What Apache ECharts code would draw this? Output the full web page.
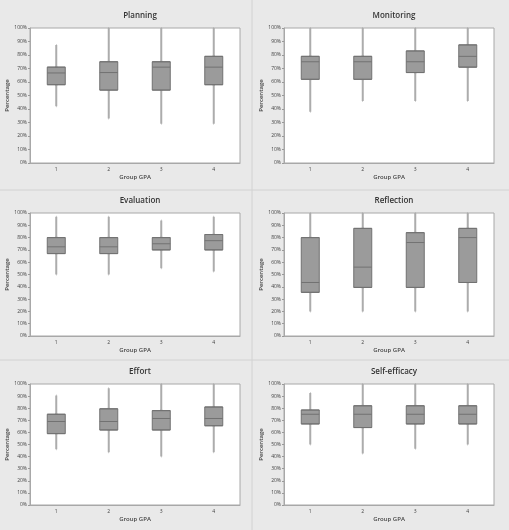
<!DOCTYPE html>
<html lang="en">
<head>
    <meta charset="UTF-8">
    <title>Group GPA boxplots</title>
    <script src="https://cdn.jsdelivr.net/npm/echarts@6/dist/echarts.min.js"></script>
    <style>
        html, body { margin: 0; padding: 0; background: #fff; }
    </style>
</head>
<body>
<div id="myChart" style="width: 509px;height: 530px;"></div>
<script>
    // each row: [min, Q1, median, Q3, max] in percent, groups 1..4
    var groups = ['1', '2', '3', '4'];
    var planning = [[42, 58, 66.7, 71, 87.5], [33, 54, 67, 75, 100], [29, 54, 71, 75, 100], [29, 58, 71, 79, 100]];
    var monitoring = [[38, 62, 75, 79, 100], [46, 62, 75, 79, 100], [46, 67, 75, 83, 100], [46, 71, 79, 87.5, 100]];
    var evaluation = [[50, 67, 72.5, 80, 97], [50, 67, 72.5, 80, 97], [55, 70, 75, 80, 94], [52.5, 70, 77.5, 82.5, 97]];
    var reflection = [[20, 35.5, 43.5, 80, 100], [20, 39.5, 56, 87.5, 100], [20, 39.5, 76, 84, 100], [20, 43.5, 80, 87.5, 100]];
    var effort = [[46, 59, 69, 75, 90.5], [43.5, 62, 69, 79.5, 96.5], [40, 62, 71.5, 78, 100], [43.5, 65.5, 71.5, 81, 100]];
    var selfEfficacy = [[50, 67, 75, 78.5, 92.5], [42.5, 64, 75, 82, 100], [46.5, 67, 75, 82, 100], [50, 67, 75, 82, 100]];
    var yTicks = [0, 10, 20, 30, 40, 50, 60, 70, 80, 90, 100];

    var panels = [
        {name: 'Planning', data: planning},
        {name: 'Monitoring', data: monitoring},
        {name: 'Evaluation', data: evaluation},
        {name: 'Reflection', data: reflection},
        {name: 'Effort', data: effort},
        {name: 'Self-efficacy', data: selfEfficacy}
    ];

    // plot areas in px
    var cols = [30, 284];
    var rows = [{top: 28, height: 135}, {top: 213, height: 123}, {top: 384, height: 121}];
    var plotW = 210;

    var font = 'Open Sans, Liberation Sans, sans-serif';
    var titles = [], grids = [], xAxes = [], yAxes = [], series = [];

    panels.forEach(function (p, i) {
        var c = i % 2, r = Math.floor(i / 2);
        grids.push({
            left: cols[c], top: rows[r].top, width: plotW, height: rows[r].height,
            show: true, backgroundColor: '#fff', borderColor: '#a8a8a8', borderWidth: 1
        });
        titles.push({
            text: p.name, left: cols[c] + plotW / 2, top: rows[r].top - 21, textAlign: 'center',
            textStyle: {fontSize: 8, fontWeight: 600, color: '#333', fontFamily: font}
        });
        // visible axis (index 2i) and a hidden twin (2i+1) so the whiskers
        // and boxes are not placed side by side
        xAxes.push({
            gridIndex: i, type: 'category', data: groups,
            name: 'Group GPA', nameLocation: 'middle', nameGap: 11,
            nameTextStyle: {fontSize: 6, fontWeight: 600, color: '#444', fontFamily: font},
            axisLine: {lineStyle: {color: '#a8a8a8'}},
            axisTick: {alignWithLabel: true, length: 2, lineStyle: {color: '#999'}},
            axisLabel: {fontSize: 5, color: '#444', margin: 4, fontFamily: font}
        });
        xAxes.push({gridIndex: i, type: 'category', data: groups, show: false});
        yAxes.push({
            gridIndex: i, type: 'value', min: yTicks[0], max: yTicks[yTicks.length - 1], interval: yTicks[1] - yTicks[0],
            name: 'Percentage', nameLocation: 'middle', nameGap: 19,
            nameTextStyle: {fontSize: 6, fontWeight: 600, color: '#444', fontFamily: font},
            axisLine: {show: true, lineStyle: {color: '#a8a8a8'}},
            axisTick: {show: true, length: 2, lineStyle: {color: '#999'}},
            axisLabel: {fontSize: 5, color: '#444', margin: 3, formatter: '{value}%', fontFamily: font},
            splitLine: {show: false}
        });
        // whiskers: a near zero width boxplot, so no end caps show
        series.push({
            type: 'boxplot', xAxisIndex: 2 * i + 1, yAxisIndex: i, data: p.data,
            boxWidth: [0.5, 0.5], silent: true,
            itemStyle: {color: '#acacac', borderColor: '#acacac', borderWidth: 2}
        });
        // boxes on top, whiskers collapsed
        series.push({
            type: 'boxplot', xAxisIndex: 2 * i, yAxisIndex: i,
            data: p.data.map(function (d) { return [d[1], d[1], d[2], d[3], d[3]]; }),
            boxWidth: [18, 18], silent: true,
            itemStyle: {color: '#9b9b9b', borderColor: '#727272', borderWidth: 1}
        });
    });

    var myChart = echarts.init(document.getElementById('myChart'));
    var option = {
        animation: false,
        backgroundColor: '#e9e9e9',
        title: titles,
        grid: grids,
        xAxis: xAxes,
        yAxis: yAxes,
        series: series,
        graphic: [
            {type: 'line', shape: {x1: 252, y1: 0, x2: 252, y2: 530}, style: {stroke: '#d2d2d2', lineWidth: 1}, silent: true},
            {type: 'line', shape: {x1: 0, y1: 190, x2: 509, y2: 190}, style: {stroke: '#d2d2d2', lineWidth: 1}, silent: true},
            {type: 'line', shape: {x1: 0, y1: 360, x2: 509, y2: 360}, style: {stroke: '#d2d2d2', lineWidth: 1}, silent: true}
        ]
    };
    myChart.setOption(option);
</script>
</body>
</html>
